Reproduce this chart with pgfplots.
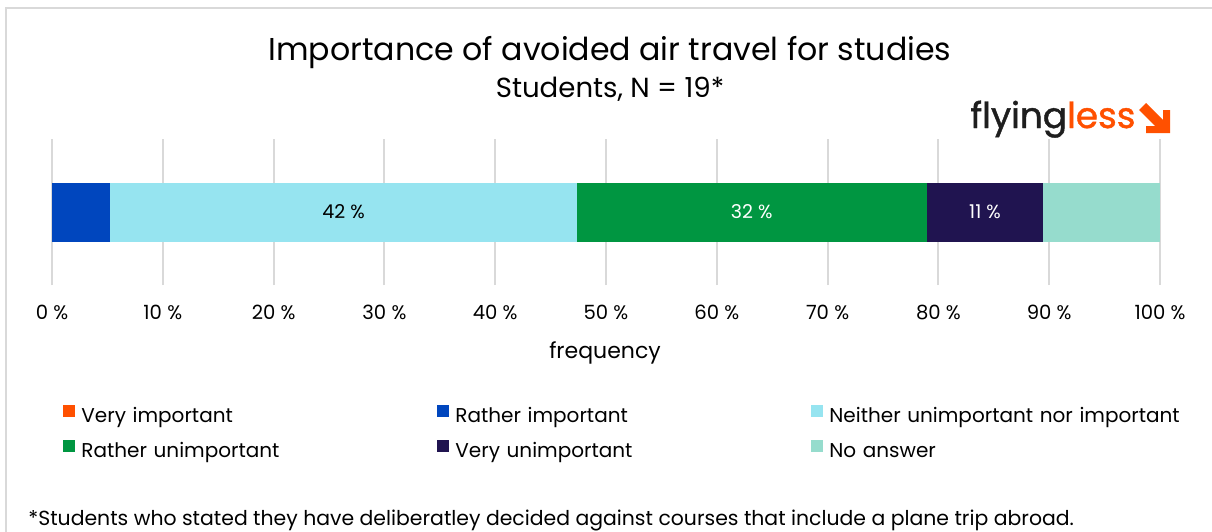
\documentclass[border=0pt]{standalone}
\usepackage{pgfplots}
\pgfplotsset{compat=1.18}
\usepackage{fontspec}
\setmainfont{Poppins}
\definecolor{c1}{RGB}{255,80,0}
\definecolor{c2}{RGB}{0,70,190}
\definecolor{c3}{RGB}{150,228,240}
\definecolor{c4}{RGB}{0,150,65}
\definecolor{c5}{RGB}{32,20,80}
\definecolor{c6}{RGB}{150,220,205}
\definecolor{gridc}{RGB}{217,217,217}
\definecolor{logodark}{RGB}{30,30,30}
\begin{document}
\begin{tikzpicture}
\begin{scope}[x=0.5pt,y=-0.5pt]
\useasboundingbox (0,0) rectangle (1212,531);
\draw[gridc, line width=1pt] (6,545) -- (6,8) -- (1220,8);
\node[anchor=base, inner sep=0pt, font=\fontsize{15.8}{19}\selectfont] at (610,60) {Importance of avoided air travel for studies};
\node[anchor=base, inner sep=0pt, font=\fontsize{13.8}{16}\selectfont] at (610,97) {Students, N = 19*};
% logo
\node[anchor=base west, inner sep=0pt, font=\fontsize{17.9}{20}\selectfont\addfontfeatures{FakeBold=1.2}] at (970,128) {\textcolor{logodark}{flying}\textcolor{c1}{less}};
\fill[c1] (1139,110) -- (1146,103) -- (1166,123) -- (1159,130) -- cycle;
\fill[c1] (1163,110) -- (1170,110) -- (1170,133) -- (1146,133) -- (1146,126) -- (1163,126) -- cycle;
\node[anchor=base, inner sep=0pt, font=\fontsize{11}{13}\selectfont] at (605,358) {frequency};
\node[anchor=base west, inner sep=0pt, font=\fontsize{10.2}{12}\selectfont] at (28,525) {*Students who stated they have deliberatley decided against courses that include a plane trip abroad.};
\coordinate (axSW) at (52,285);
\end{scope}
\begin{axis}[
  at={(axSW)}, anchor=south west,
  scale only axis, width=554pt, height=73pt,
  xbar stacked, bar width=29.5pt,
  xmin=0, xmax=100, ymin=-1, ymax=1,
  axis line style={draw=none}, tick style={draw=none},
  ytick=\empty,
  xtick={0,10,...,100},
  xticklabels={0 \%,10 \%,20 \%,30 \%,40 \%,50 \%,60 \%,70 \%,80 \%,90 \%,100 \%},
  xticklabel style={font=\fontsize{9.8}{12}\selectfont, inner sep=0pt, text height=7pt, anchor=north, yshift=-10pt},
  xmajorgrids, grid style={gridc, line width=1pt},
  point meta=explicit symbolic,
  every node near coord/.append style={font=\fontsize{9.5}{12}\selectfont, anchor=center},
  legend image code/.code={\fill[#1] (0pt,0pt) rectangle (6pt,6pt); \path (9pt,0pt);},
  legend columns=3,
  legend style={at={(axis description cs:0,0)}, anchor=north west, xshift=5.5pt, yshift=-60pt,
    draw=none, fill=none, inner sep=0pt, column sep=0pt, row sep=7pt,
    font=\fontsize{10}{12}\selectfont,
    nodes={inner xsep=0pt, inner ysep=0pt, text height=7pt, text depth=2pt, text width=178pt, align=left}},
  legend cell align=left,
]
\addplot[fill=c1, draw=none] coordinates {(0,0) []};
\addplot[fill=c2, draw=none] coordinates {(5.263,0) []};
\addplot[fill=c3, draw=none, nodes near coords, every node near coord/.append style={black}] coordinates {(42.105,0) [42 \%]};
\addplot[fill=c4, draw=none, nodes near coords, every node near coord/.append style={white}] coordinates {(31.579,0) [32 \%]};
\addplot[fill=c5, draw=none, nodes near coords, every node near coord/.append style={white}] coordinates {(10.526,0) [11 \%]};
\addplot[fill=c6, draw=none] coordinates {(10.526,0) []};
\legend{Very important, Rather important, Neither unimportant nor important, Rather unimportant, Very unimportant, No answer}
\end{axis}
\end{tikzpicture}
\end{document}
